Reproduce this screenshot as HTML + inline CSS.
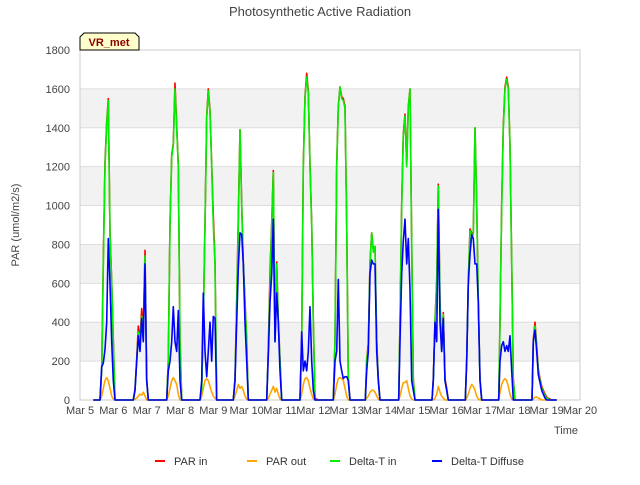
<!DOCTYPE html>
<html><head><meta charset="utf-8"><style>
body{margin:0;background:#fff;font-family:"Liberation Sans",sans-serif}
svg text{font-family:"Liberation Sans",sans-serif}
</style></head><body>
<svg id="chart" width="640" height="480" xmlns="http://www.w3.org/2000/svg">
<rect width="640" height="480" fill="#fff"/>
<text x="320" y="16" text-anchor="middle" font-size="13" fill="#444">Photosynthetic Active Radiation</text>
<g id="grid"></g>
<rect x="80" y="50" width="500" height="350" fill="none" stroke="#ccc"/>
<g id="yticks"></g>
<g id="xticks"></g>
<text transform="translate(19,225) rotate(-90)" text-anchor="middle" font-size="11" fill="#444">PAR (umol/m2/s)</text>
<text x="566" y="434" text-anchor="middle" font-size="11" fill="#444">Time</text>
<g id="series"></g>
<g>
<path d="M80,50 L80,37 L84,33 L135,33 L139,37 L139,50 Z" fill="#ffffcc" stroke="#000" stroke-width="1"/>
<text x="109" y="46" text-anchor="middle" font-size="11" font-weight="bold" fill="#8b0000">VR_met</text>
</g>
<g id="legend"></g>
</svg>
<script>
const yTicks=[0,200,400,600,800,1000,1200,1400,1600,1800];
const xTickLabels=["Mar 5","Mar 6","Mar 7","Mar 8","Mar 9","Mar 10","Mar 11","Mar 12","Mar 13","Mar 14","Mar 15","Mar 16","Mar 17","Mar 18","Mar 19","Mar 20"];
const dayStarts=[0,1,2,3,4,5,6,7,8,9,10,11,12,13];
const offsets=[0.60,0.65,0.70,0.75,0.80,0.85,0.90,0.95,1.00,1.05,1.10];
const deltaTIn=[
[0,150,700,1200,1420,1540,850,600,300,0,0],
[0,50,200,350,300,430,350,740,100,0,0],
[0,200,900,1250,1310,1600,1400,1200,300,0,0],
[0,50,400,900,1450,1590,1480,1200,900,700,0],
[0,100,500,900,1390,1000,700,500,300,0,0],
[0,250,600,900,1170,300,700,400,200,0,0],
[0,300,1200,1550,1660,1580,1200,900,400,0,0],
[0,300,1200,1500,1610,1550,1540,1500,900,100,0],
[200,280,700,860,760,790,300,100,0,0,0],
[400,1000,1360,1460,1200,1500,1600,800,100,0,0],
[100,400,600,1100,500,250,440,100,50,0,0],
[200,600,870,850,850,1400,1000,500,100,0,0],
[400,1000,1400,1600,1650,1600,1300,700,100,0,0],
[300,380,270,150,100,60,40,20,10,5,0]];
const parIn=[
[0,160,720,1220,1430,1550,860,610,310,0,0],
[0,55,210,380,310,470,360,770,110,0,0],
[0,210,910,1260,1320,1630,1410,1210,310,0,0],
[0,55,410,910,1460,1600,1490,1210,950,710,0],
[0,110,510,940,1390,1010,710,510,310,0,0],
[0,260,660,910,1180,310,710,410,210,0,0],
[0,310,1210,1560,1680,1590,1210,910,410,5,5],
[5,310,1210,1510,1610,1560,1550,1510,910,110,0],
[210,290,710,860,770,790,310,110,0,0,0],
[410,1010,1370,1470,1210,1510,1600,810,110,0,0],
[110,410,610,1110,510,260,450,110,60,0,0],
[210,610,880,860,860,1400,1010,510,110,0,0],
[410,1010,1410,1610,1660,1610,1310,710,110,0,0],
[310,400,280,160,110,70,50,30,15,8,5]];
const deltaTDiffuse=[
[0,170,190,260,400,830,600,300,100,0,0],
[0,50,200,330,250,420,300,700,100,0,0],
[0,150,200,300,480,300,250,460,100,0,0],
[0,100,550,250,120,250,400,200,430,420,0],
[0,100,400,680,860,850,700,400,200,0,0],
[0,230,500,650,930,300,550,400,150,0,0],
[0,350,150,200,150,250,480,200,50,0,0],
[0,200,250,620,200,150,110,120,120,100,0],
[150,250,650,720,700,700,250,100,0,0,0],
[300,650,820,930,700,830,570,100,50,0,0],
[100,400,300,980,400,250,420,100,50,0,0],
[200,600,750,850,830,700,700,500,100,0,0],
[200,280,300,250,280,250,330,150,0,0,0],
[300,360,250,130,90,50,30,10,0,0,0]];
const parOut=[
[0,20,60,100,115,100,60,20,5,0,0],
[0,5,10,20,30,25,40,20,0,0,0],
[0,20,60,100,115,100,80,30,0,0,0],
[0,20,60,100,110,100,70,40,20,10,0],
[0,20,50,80,60,70,50,20,5,0,0],
[0,10,30,50,70,40,60,30,5,0,0],
[0,30,80,110,115,100,60,30,5,0,0],
[0,30,80,110,115,110,100,60,20,0,0],
[10,20,40,50,50,40,20,5,0,0,0],
[20,60,90,90,100,60,20,5,0,0,0],
[0,10,30,70,40,20,10,0,0,0,0],
[10,30,60,80,70,50,20,5,0,0,0],
[40,80,100,110,100,70,30,5,0,0,0],
[5,15,15,10,5,0,0,0,0,0,0]];
const seriesNames=["PAR in","PAR out","Delta-T in","Delta-T Diffuse"];
const seriesColors=["#ff0000","#ffa500","#00ee00","#0000ff"];

const NS="http://www.w3.org/2000/svg";
const X0=80,X1=580,Y0=400,Y1=50;
function xs(t){return X0+(t/15)*(X1-X0);}
function ys(v){return Y0-(v/1800)*(Y0-Y1);}
function mk(tag,attrs,parent){const e=document.createElementNS(NS,tag);for(const k in attrs)e.setAttribute(k,attrs[k]);parent.appendChild(e);return e;}

const grid=document.getElementById('grid');
for(let i=0;i<yTicks.length-1;i++){
  if(i%2===1){const r=mk('rect',{x:X0,y:ys(yTicks[i+1]),width:X1-X0,height:ys(yTicks[i])-ys(yTicks[i+1]),fill:'#f2f2f2'},grid);
  
  }
}
const yg=document.getElementById('yticks');
yTicks.forEach(v=>{
  const l=mk('line',{x1:X0,x2:X1,y1:ys(v),y2:ys(v),stroke:'#ddd'},grid);
  
  
  const t=mk('text',{x:X0-10,y:ys(v)+4,'text-anchor':'end','font-size':'11',fill:'#444'},yg);
  
  
  t.textContent=v;
});
const xg=document.getElementById('xticks');
xTickLabels.forEach((s,i)=>{
  const t=mk('text',{x:xs(i),y:414,'text-anchor':'middle','font-size':'11',fill:'#444'},xg);
  
  
  t.textContent=s;
});
function buildPath(arr){
  let pts=[[0.4,0]];
  dayStarts.forEach((d,i)=>{
    pts.push([d+0.56,0]);
    offsets.forEach((o,j)=>{pts.push([d+o,arr[i][j]]);});
    pts.push([d+1.14,0]);
  });
  pts.push([14.3,0]);
  return pts.map((p,k)=>(k?'L':'M')+xs(p[0]).toFixed(1)+','+ys(p[1]).toFixed(1)).join(' ');
}
const sg=document.getElementById('series');
const allData=[parIn,parOut,deltaTIn,deltaTDiffuse];
const slugs=['par-in-line','par-out-line','delta-t-in-line','delta-t-diffuse-line'];
[0,1,2,3].forEach(i=>{
  const p=mk('path',{d:buildPath(allData[i]),fill:'none',stroke:seriesColors[i],'stroke-width':'1.6','stroke-linejoin':'round'},sg);
  
  
});
const lg=document.getElementById('legend');
const lx=[155,247,330,432];
seriesNames.forEach((n,i)=>{
  const g=mk('g',{},lg);
  
  
  mk('line',{x1:lx[i],x2:lx[i]+10,y1:461,y2:461,stroke:seriesColors[i],'stroke-width':'2'},g);
  const t=mk('text',{x:lx[i]+19,y:465,'font-size':'11',fill:'#333'},g);
  t.textContent=n;
});
</script>
</body></html>
